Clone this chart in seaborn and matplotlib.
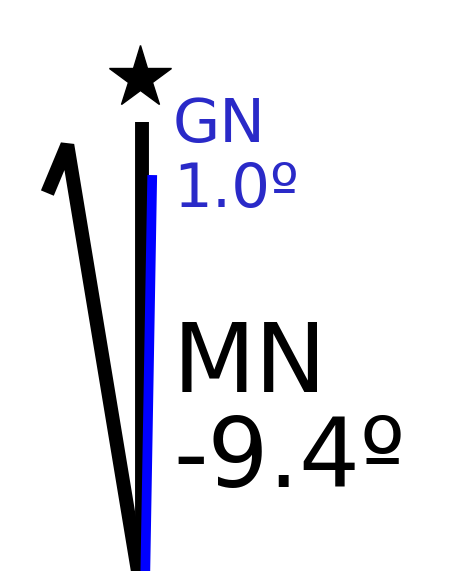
import matplotlib
matplotlib.use("Agg")
import matplotlib.pyplot as plt
import numpy as np
import seaborn as sns
import pandas as pd

# declination diagram: true north, grid north, magnetic north
names = ["GN", "MN"]
angles = [1.0, -9.4]          # degrees from true north
line_lengths = [415, 451]     # drawn length of each arrow (px units)
line_colors = ["#0000ff", "black"]
text_colors = ["#2a2ac8", "black"]
font_sizes = [44, 69]
name_baselines = [448, 198]
value_baselines = [383, 103]

sns.set_style("white")
plt.rcParams['font.family'] = ['DejaVu Sans']

fig = plt.figure(figsize=(4.77, 5.71), dpi=100)
ax = fig.add_axes([0, 0, 1, 1])
# 1 data unit = 1 pixel, origin at the foot of the lines (below the picture)
ax.set_xlim(-142, 335)
ax.set_ylim(19, 590)
ax.set_axis_off()

# true north line + star
tn = pd.DataFrame({"x": [0, 0], "y": [0, 468]})
sns.lineplot(data=tn, x="x", y="y", ax=ax, color="black", lw=10,
             sort=False, estimator=None, solid_capstyle="butt")
ax.plot([-2], [512], marker="*", color="black", markersize=47, linestyle="none")


def direction(deg):
    r = np.deg2rad(deg)
    return np.array([np.sin(r), np.cos(r)])


# magnetic north with a half arrow head (drawn first, under grid north)
mn_dir = direction(angles[1])
mn_origin = np.array([-1.0, 0.0])
tip = mn_origin + line_lengths[1] * mn_dir
back = -mn_dir
rot = np.deg2rad(-32)
barb = np.array([back[0] * np.cos(rot) - back[1] * np.sin(rot),
                 back[0] * np.sin(rot) + back[1] * np.cos(rot)])
barb_end = tip + 52 * barb
mn = pd.DataFrame({"x": [barb_end[0], tip[0], mn_origin[0]],
                   "y": [barb_end[1], tip[1], mn_origin[1]]})
sns.lineplot(data=mn, x="x", y="y", ax=ax, color=line_colors[1], lw=10,
             sort=False, estimator=None, solid_capstyle="butt",
             solid_joinstyle="bevel")

# grid north
gn_origin = np.array([3.0, 0.0])
gn_end = gn_origin + line_lengths[0] * direction(angles[0])
gn = pd.DataFrame({"x": [gn_origin[0], gn_end[0]], "y": [gn_origin[1], gn_end[1]]})
sns.lineplot(data=gn, x="x", y="y", ax=ax, color=line_colors[0], lw=7,
             sort=False, estimator=None, solid_capstyle="butt")

# labels
for name, ang, col, fs, yb1, yb2 in zip(names, angles, text_colors, font_sizes,
                                        name_baselines, value_baselines):
    ax.text(31, yb1, name, color=col, fontsize=fs, va="baseline", ha="left")
    ax.text(31, yb2, f"{ang:.1f}º", color=col, fontsize=fs, va="baseline", ha="left")

fig.savefig("out.png", dpi=100)
